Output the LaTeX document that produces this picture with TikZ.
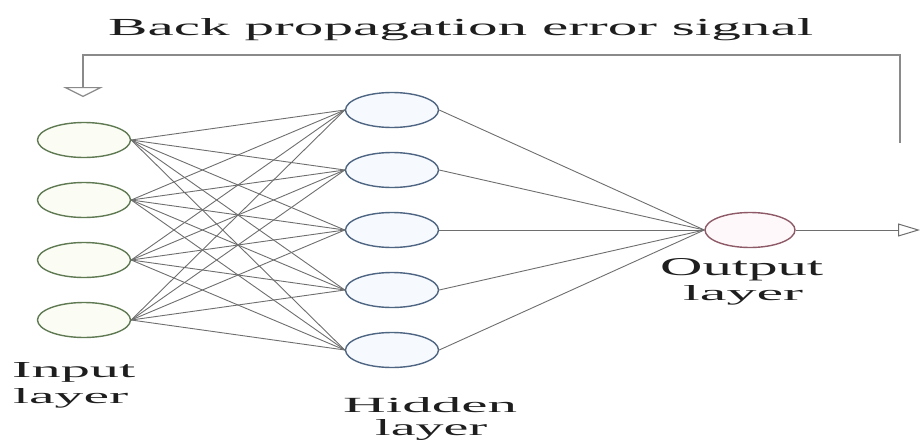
\documentclass[tikz,border=0pt]{standalone}
\usepackage{fontspec}
\setmainfont{Liberation Serif}
\usepackage{graphicx}
\usetikzlibrary{arrows.meta,shapes.geometric}
\definecolor{inedge}{HTML}{5F7A52}
\definecolor{infill}{HTML}{FBFDF4}
\definecolor{hidedge}{HTML}{4E6683}
\definecolor{hidfill}{HTML}{F6F9FD}
\definecolor{outedge}{HTML}{8E5A68}
\definecolor{outfill}{HTML}{FFF8FA}
\definecolor{wire}{HTML}{6E6E6E}
\definecolor{fbline}{HTML}{8A8A8A}
\definecolor{txt}{HTML}{1E1E1E}
\tikzset{
  neuron/.style={ellipse, line width=1.4pt, inner sep=0pt, minimum width=93pt, minimum height=35pt},
  inneuron/.style={neuron, draw=inedge, fill=infill},
  hidneuron/.style={neuron, draw=hidedge, fill=hidfill},
  outneuron/.style={neuron, draw=outedge, fill=outfill, minimum width=90pt},
  wirestyle/.style={draw=wire, line width=0.9pt},
  fbstyle/.style={draw=fbline, line width=1.8pt},
  lab/.style={inner sep=0pt, text=txt, anchor=base west}
}
\begin{document}
\begin{tikzpicture}[x=1pt,y=-1pt]
\useasboundingbox (0,0) rectangle (920,439);
% title
\node[inner sep=0pt, text=txt, anchor=base west] (title) at (108,35) {\resizebox{705pt}{17pt}{Back propagation error signal}};
% feedback path
\coordinate (fbstart) at (900,143);
\coordinate (fbR) at (900,55);
\coordinate (fbL) at (83,55);
\coordinate (fbend) at (83,97);
\draw[fbstyle, -{Triangle[open, length=10pt, width=40pt, line width=1.2pt]}] (fbstart) -- (fbR) -- (fbL) -- (fbend);
% neurons
\foreach \i/\y in {1/140,2/200,3/260,4/320} \node[inneuron] (in\i) at (84,\y) {};
\foreach \j/\y in {1/110,2/170,3/230,4/290,5/350} \node[hidneuron] (hid\j) at (392,\y) {};
\node[outneuron] (out) at (750,230) {};
\coordinate (outtip) at (920,230);
% connections
\foreach \i in {1,...,4}
  \foreach \j in {1,...,5}
    \draw[wirestyle] (in\i.east) -- (hid\j.west);
\foreach \j in {1,...,5}
  \draw[wirestyle] (hid\j.east) -- (out.west);
\draw[wirestyle, -{Triangle[open, length=22pt, width=13pt, line width=1pt]}] (out.east) -- (outtip);
% labels
\node[lab] (inlabA) at (12,377) {\resizebox{123pt}{15pt}{Input}};
\node[lab] (inlabB) at (13,403) {\resizebox{115pt}{15pt}{layer}};
\node[lab] (hidlabA) at (343,412) {\resizebox{174pt}{15pt}{Hidden}};
\node[lab] (hidlabB) at (375,435) {\resizebox{112pt}{16pt}{layer}};
\node[lab] (outlabA) at (660,275) {\resizebox{163pt}{17pt}{Output}};
\node[lab] (outlabB) at (683,300) {\resizebox{120pt}{15pt}{layer}};
\end{tikzpicture}
\end{document}
